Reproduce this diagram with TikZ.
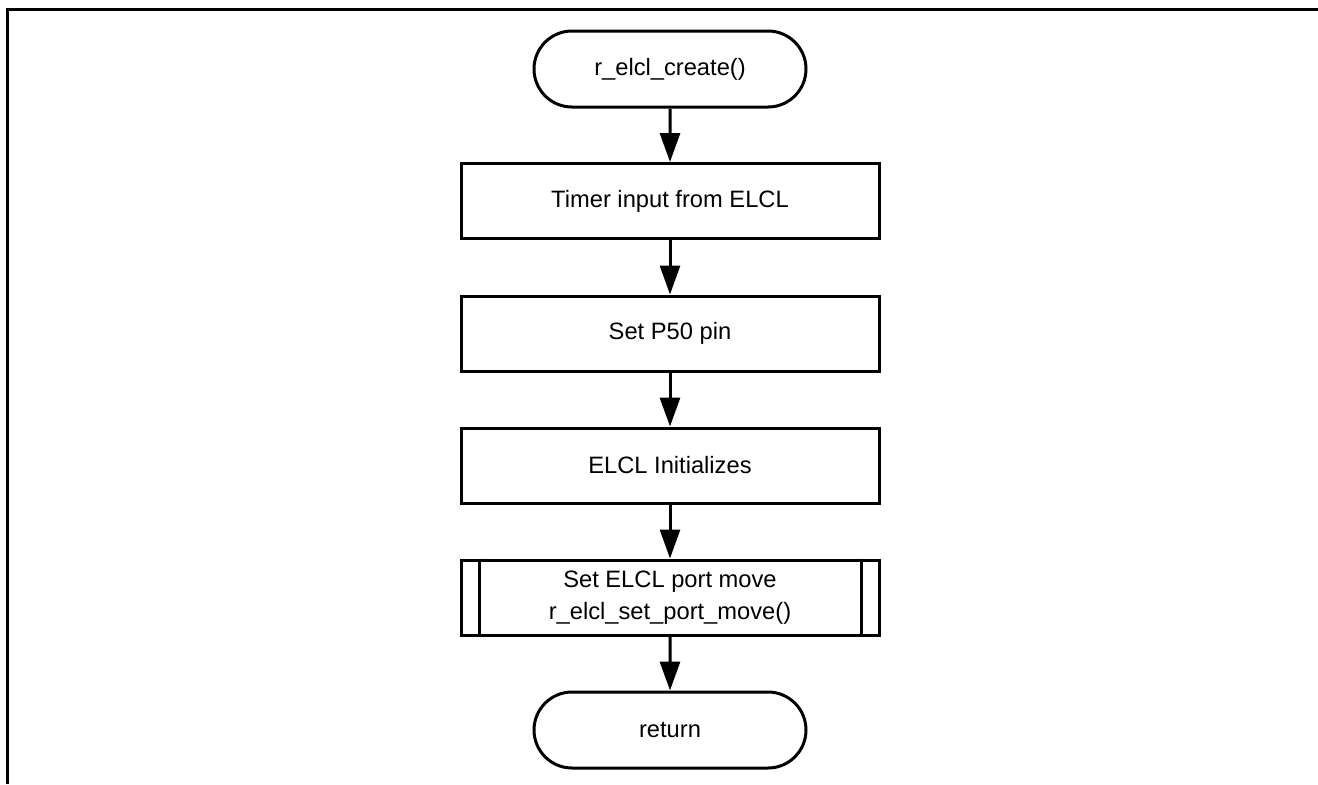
\documentclass[tikz,border=0pt]{standalone}
\usepackage{fontspec}
\setmainfont{Liberation Sans}
\usetikzlibrary{arrows.meta,shapes.misc}
\begin{document}
\begin{tikzpicture}[x=0.5pt,y=-0.5pt,
  every node/.style={font=\fontsize{11.85}{16}\selectfont, inner sep=0pt, line width=1.5pt},
  term/.style={draw, rounded rectangle, minimum width=136pt, minimum height=38pt},
  proc/.style={draw, rectangle, minimum width=209pt, minimum height=37.5pt, align=center},
  flow/.style={line width=1.5pt, -{Triangle[length=14.5pt,width=10pt]}}]
  \useasboundingbox (0,0) rectangle (1318,784);
  % page frame (open at the right and bottom)
  \draw[line width=1.5pt] (7.5,784) -- (7.5,9) -- (1318,9);
  % flowchart steps
  \node[term] (start) at (670,69) {r\_elcl\_create()};
  \node[proc] (timer) at (670,201) {Timer input from ELCL};
  \node[proc] (pin) at (670,333.5) {Set P50 pin};
  \node[proc] (init) at (670,465.5) {ELCL Initializes};
  \node[proc] (port) at (670,597.5) {Set ELCL port move\\r\_elcl\_set\_port\_move()};
  % side bars of the predefined-process box
  \draw[line width=1.5pt] ([xshift=10pt]port.north west) -- ([xshift=10pt]port.south west);
  \draw[line width=1.5pt] ([xshift=-9.5pt]port.north east) -- ([xshift=-9.5pt]port.south east);
  \node[term] (ret) at (670,730) {return};
  % connectors
  \draw[flow] (start) -- (timer);
  \draw[flow] (timer) -- (pin);
  \draw[flow] (pin) -- (init);
  \draw[flow] (init) -- (port);
  \draw[flow] (port) -- (ret);
\end{tikzpicture}
\end{document}
